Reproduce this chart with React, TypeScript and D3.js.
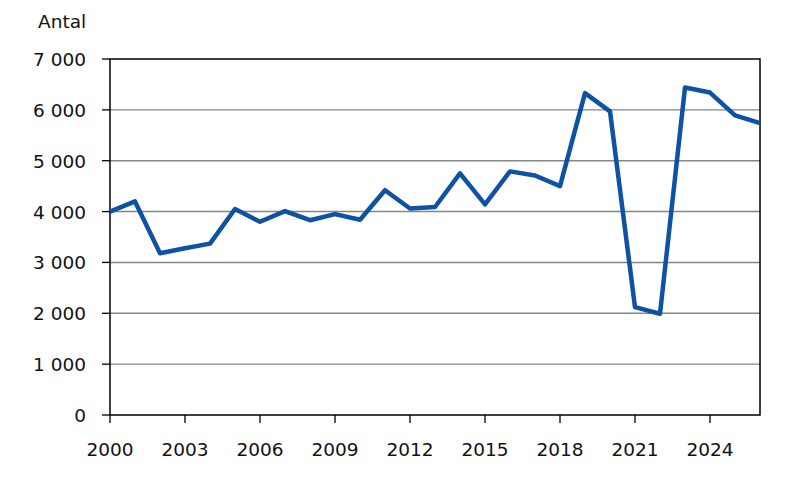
import React from "react";
import * as d3 from "d3";

const years = d3.range(2000, 2027);
const values = [4000, 4200, 3180, 3280, 3370, 4050, 3800, 4010, 3830, 3950, 3840, 4420, 4060, 4090, 4750, 4140, 4790, 4710, 4500, 6330, 5970, 2120, 1990, 6440, 6340, 5890, 5740];
const yTicks = [0, 1000, 2000, 3000, 4000, 5000, 6000, 7000];
const xTicks = [2000, 2003, 2006, 2009, 2012, 2015, 2018, 2021, 2024];
const yLabel = "Antal";

const W = 800, H = 499;
const m = { left: 110, right: 40, top: 59, bottom: 84 };

export default function App() {
  const x = d3.scaleLinear().domain([2000, 2026]).range([m.left, W - m.right]);
  const y = d3.scaleLinear().domain([0, 7000]).range([H - m.bottom, m.top]);
  const line = d3.line<number>().x((_, i) => x(years[i])).y((d) => y(d));
  const fmt = (v: number) => d3.format(",")(v).replace(/,/g, " ");
  const font = "'DejaVu Sans', Verdana, sans-serif";
  const fs = 18.5;
  return (
    <svg width={W} height={H} style={{ position: "absolute", left: 0, top: 0, background: "#fff" }}>
      {yTicks.map((t) => (
        <g key={t}>
          {t > 0 && t < 7000 && (
            <line x1={m.left} x2={W - m.right} y1={y(t)} y2={y(t)} stroke="#858585" strokeWidth={1.4} />
          )}
          <line x1={m.left - 8} x2={m.left} y1={y(t)} y2={y(t)} stroke="#000" strokeWidth={1.3} />
          <text x={m.left - 24} y={y(t)} dy="0.38em" textAnchor="end" fontFamily={font} fontSize={fs} fill="#111">
            {fmt(t)}
          </text>
        </g>
      ))}
      {xTicks.map((t) => (
        <g key={t}>
          <line x1={x(t)} x2={x(t)} y1={y(0)} y2={y(0) + 8} stroke="#000" strokeWidth={1.3} />
          <text x={x(t)} y={y(0) + 41} textAnchor="middle" fontFamily={font} fontSize={fs} fill="#111">
            {t}
          </text>
        </g>
      ))}
      <rect x={m.left} y={m.top} width={W - m.right - m.left} height={H - m.bottom - m.top} fill="none" stroke="#000" strokeWidth={1.5} />
      <path d={line(values) || ""} fill="none" stroke="#0d52a3" strokeWidth={4.5} strokeLinejoin="round" />
      <text x={38} y={28} fontFamily={font} fontSize={fs} fill="#111">
        {yLabel}
      </text>
    </svg>
  );
}
